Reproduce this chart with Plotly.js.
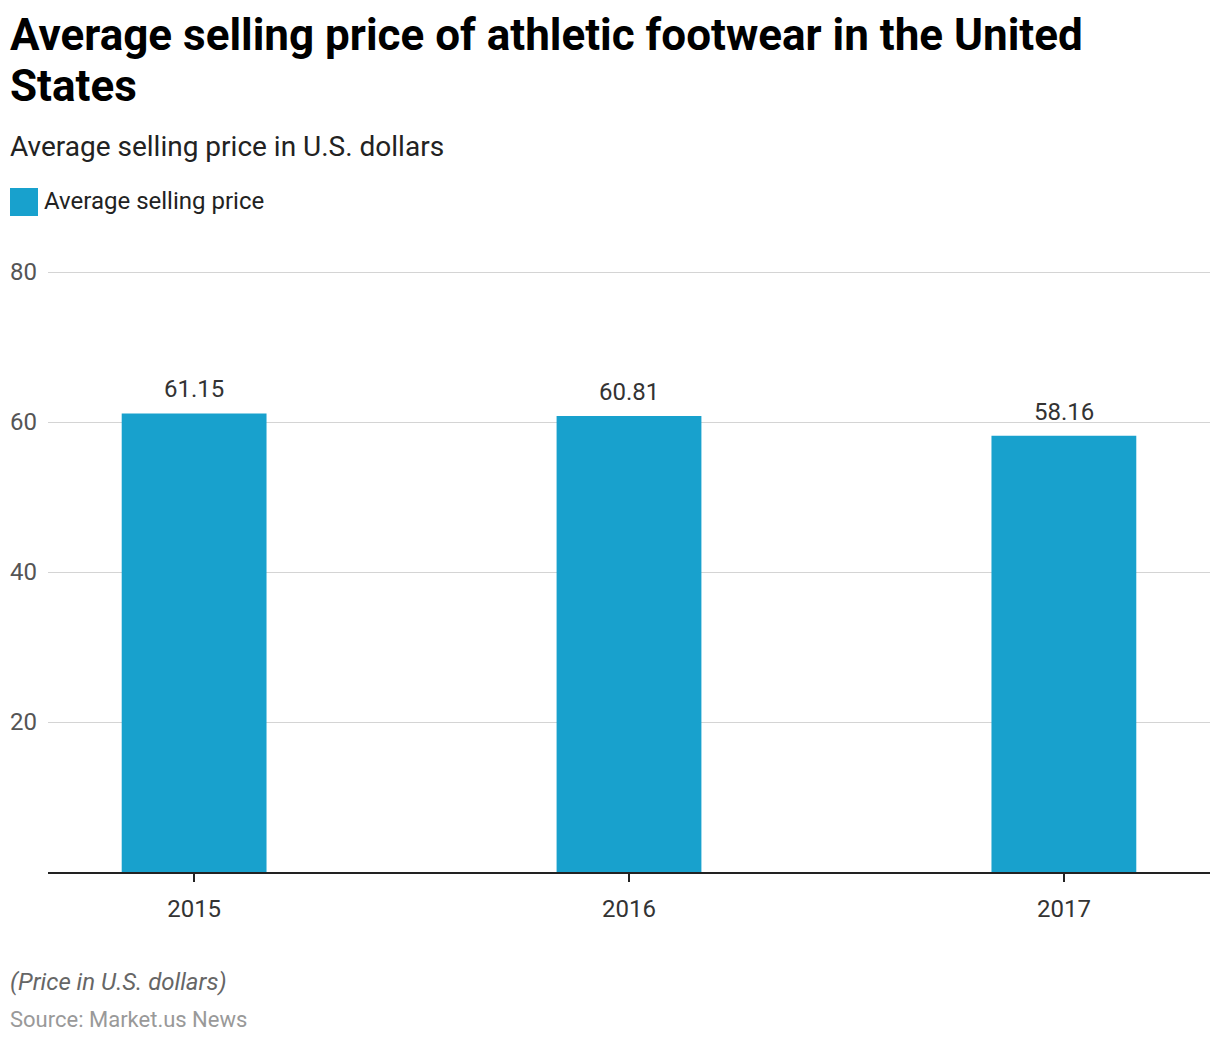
<!DOCTYPE html>
<html>
<head>
<meta charset="utf-8">
<script src="https://cdn.plot.ly/plotly-3.0.1.min.js"></script>
<style>html,body{margin:0;padding:0;background:#fff;}</style>
</head>
<body>
<div id="chart" style="width:1220px;height:1044px;"></div>
<script>
const years = ['2015', '2016', '2017'];
const prices = [61.15, 60.81, 58.16];
const seriesName = 'Average selling price';
const yTicks = [20, 40, 60, 80];
const titleLines = ['Average selling price of athletic footwear in the United', 'States'];
const subtitleText = 'Average selling price in U.S. dollars';
const noteText = '(Price in U.S. dollars)';
const sourceText = 'Source: Market.us News';

const barColor = '#18A1CD';
const W = 1220, H = 1044, mL = 48, mR = 10, mT = 266, mB = 172;
const pw = W - mL - mR, ph = H - mT - mB;
const px = x => (x - mL) / pw;
const py = y => (H - mB - y) / ph;

const trace = {
  type: 'bar',
  x: years,
  y: prices,
  name: seriesName,
  marker: {color: barColor},
  width: 0.333,
  hoverinfo: 'x+y'
};

const annotations = [
  {text: '<b>' + titleLines[0] + '</b>', xref: 'paper', yref: 'paper', x: px(8), y: py(35), xanchor: 'left', yanchor: 'middle', align: 'left', showarrow: false, font: {family: 'Roboto', size: 44, color: '#000'}},
  {text: '<b>' + titleLines[1] + '</b>', xref: 'paper', yref: 'paper', x: px(8), y: py(86), xanchor: 'left', yanchor: 'middle', align: 'left', showarrow: false, font: {family: 'Roboto', size: 44, color: '#000'}},
  {text: subtitleText, xref: 'paper', yref: 'paper', x: px(8), y: py(147), xanchor: 'left', yanchor: 'middle', showarrow: false, font: {family: 'Roboto', size: 28, color: '#222'}},
  {text: seriesName, xref: 'paper', yref: 'paper', x: px(42), y: py(201), xanchor: 'left', yanchor: 'middle', showarrow: false, font: {family: 'Roboto', size: 24, color: '#222'}},
  {text: '<i>' + noteText + '</i>', xref: 'paper', yref: 'paper', x: px(8), y: py(982), xanchor: 'left', yanchor: 'middle', showarrow: false, font: {family: 'Roboto', size: 24, color: '#666'}},
  {text: sourceText, xref: 'paper', yref: 'paper', x: px(8), y: py(1019), xanchor: 'left', yanchor: 'middle', showarrow: false, font: {family: 'Roboto', size: 22, color: '#999'}}
];
years.forEach((yr, i) => {
  annotations.push({text: prices[i].toFixed(2), x: i, y: prices[i], xref: 'x', yref: 'y', xanchor: 'center', yanchor: 'bottom', yshift: 8, showarrow: false, font: {family: 'Roboto', size: 24, color: '#333'}});
});

const layout = {
  width: W, height: H,
  margin: {l: mL, r: mR, t: mT, b: mB, pad: 0},
  paper_bgcolor: '#fff', plot_bgcolor: '#fff',
  showlegend: false,
  font: {family: 'Roboto', color: '#333'},
  xaxis: {
    type: 'category',
    range: [-0.336, 2.336],
    showgrid: false,
    showline: true, linecolor: '#222', linewidth: 2,
    ticks: 'outside', ticklen: 8, tickcolor: '#222', tickwidth: 2,
    ticklabelstandoff: 6,
    tickfont: {family: 'Roboto', size: 24, color: '#333'},
    fixedrange: true
  },
  yaxis: {
    range: [0, 80.8],
    tickvals: yTicks,
    ticktext: yTicks.map(String),
    showgrid: true, gridcolor: '#d4d4d4', gridwidth: 1,
    zeroline: false, showline: false,
    ticks: '', ticklabelstandoff: 10,
    tickfont: {family: 'Roboto', size: 24, color: '#555'},
    fixedrange: true
  },
  shapes: [
    {type: 'rect', xref: 'paper', yref: 'paper', x0: px(10), x1: px(38), y0: py(216), y1: py(188), fillcolor: barColor, line: {width: 0}}
  ],
  annotations: annotations
};

Plotly.newPlot('chart', [trace], layout, {displayModeBar: false, staticPlot: true});
</script>
</body>
</html>
